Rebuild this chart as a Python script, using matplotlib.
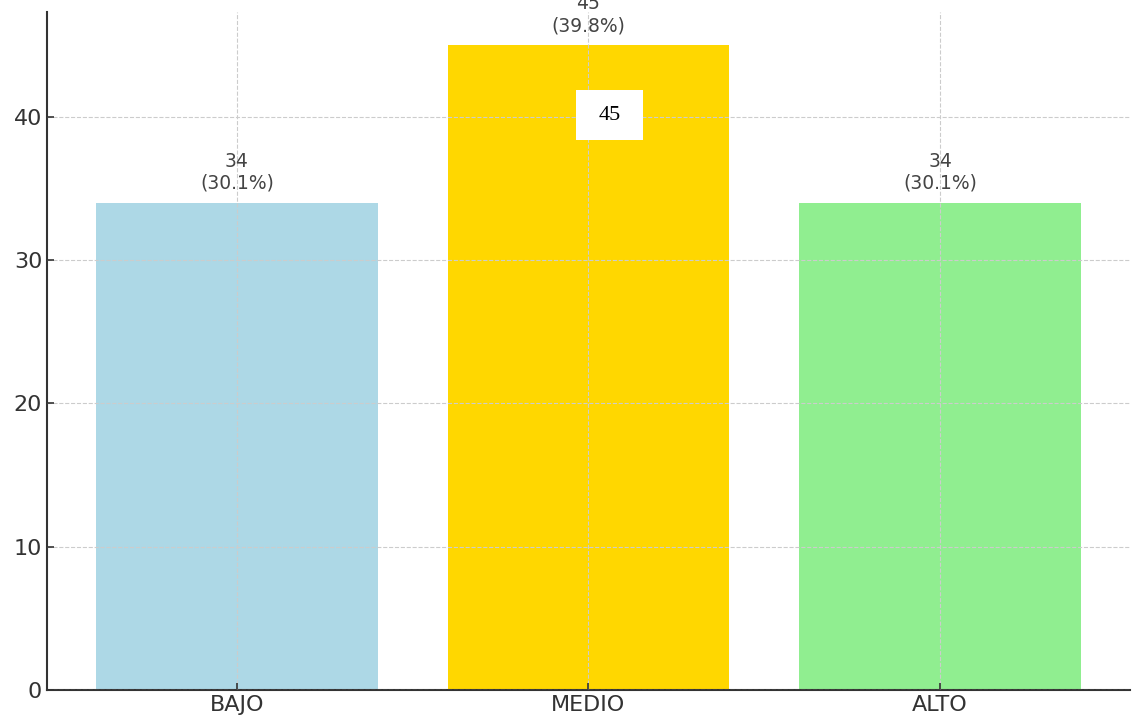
import numpy as np
import matplotlib
matplotlib.use('Agg')
import matplotlib.pyplot as plt
from matplotlib.path import Path
from matplotlib.font_manager import FontProperties

categories = ["BAJO", "MEDIO", "ALTO"]
counts = [34, 45, 34]
colors = ["lightblue", "gold", "lightgreen"]
total = sum(counts)

plt.rcParams['font.serif'] = ['Liberation Serif', 'DejaVu Serif']


def wide_box(x0, y0, width, height, mutation_size):
    # rectangle with more padding left/right than top/bottom
    px, py = 1.0 * mutation_size, 0.7 * mutation_size
    x0, y0 = x0 - px, y0 - py
    x1, y1 = x0 + width + 2 * px, y0 + height + 2 * py
    return Path([(x0, y0), (x1, y0), (x1, y1), (x0, y1), (x0, y0)], closed=True)


fig = plt.figure(figsize=(11.38, 7.22), dpi=100)
ax = fig.add_axes([47 / 1138, 32 / 722, (1130 - 47) / 1138, (690 - 12) / 722])

x = np.arange(len(categories))
bars = ax.bar(x, counts, color=colors, width=0.8, zorder=1)

ax.set_xticks(x)
ax.set_xticklabels(categories)
ax.set_ylim(0, 47.3)
ax.set_yticks([0, 10, 20, 30, 40])

ax.grid(True, linestyle='--', color='#cccccc', linewidth=0.8, zorder=2)
ax.set_axisbelow(False)
for s in ['top', 'right']:
    ax.spines[s].set_visible(False)
for s in ['left', 'bottom']:
    ax.spines[s].set_color('#333333')
    ax.spines[s].set_linewidth(1.5)
ax.tick_params(axis='both', direction='in', labelsize=16, colors='#333333', length=5, width=1.2)

for xi, c in zip(x, counts):
    ax.annotate(f"{c}\n({c / total * 100:.1f}%)", xy=(xi, c), xytext=(0, 7),
                textcoords='offset points', ha='center', va='bottom',
                fontsize=13.5, color='#444444', zorder=5)

# white box label inside the MEDIO bar
serif = FontProperties(family='serif', size=16)
ax.text(1.06, 40.1, str(counts[1]), ha='center', va='center', fontproperties=serif,
        color='black', zorder=6,
        bbox=dict(boxstyle=wide_box, facecolor='white', edgecolor='none'))

fig.savefig("out.png", dpi=100)
